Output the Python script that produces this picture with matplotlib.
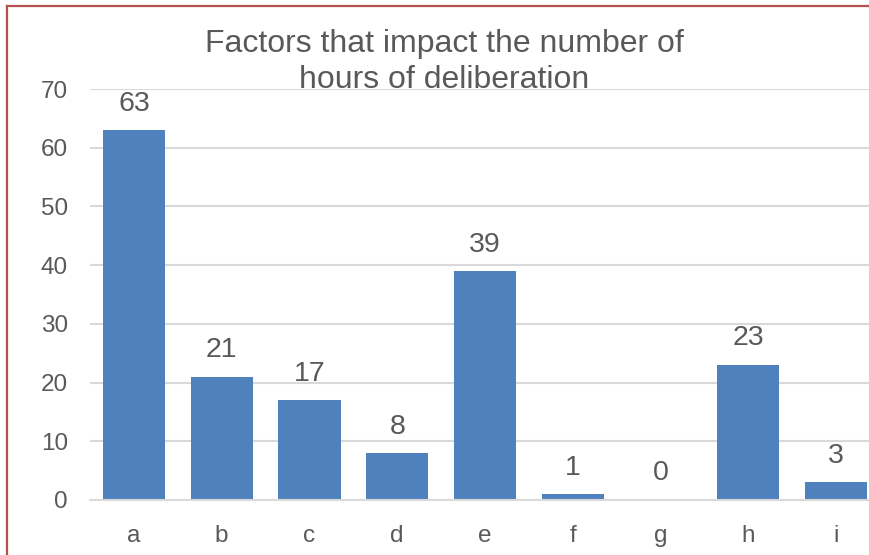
import matplotlib.pyplot as plt
from matplotlib.lines import Line2D

# data
categories = ['a', 'b', 'c', 'd', 'e', 'f', 'g', 'h', 'i']
counts = [63, 21, 17, 8, 39, 1, 0, 23, 3]
y_ticks = [0, 10, 20, 30, 40, 50, 60, 70]

bar_color = '#4F81BD'
text_color = '#595959'
grid_color = '#D9D9D9'

plt.rcParams['font.family'] = ['Liberation Sans', 'DejaVu Sans']

W, H = 870, 555
fig = plt.figure(figsize=(W / 100, H / 100), dpi=100)

# plot area runs past the right edge of the picture (cropped chart)
ax = fig.add_axes([90 / W, (H - 500) / H, 790 / W, 411 / H])

x = range(len(categories))
ax.bar(x, counts, width=0.71, color=bar_color, zorder=2)

for xi, v in zip(x, counts):
    ax.text(xi, v + 2.3, str(v), ha='center', va='bottom',
            fontsize=20.5, color=text_color)

ax.set_xlim(-0.5, len(categories) - 0.5)
ax.set_ylim(0, 70)
ax.set_yticks(y_ticks)
ax.set_xticks(list(x))
ax.set_xticklabels(categories)
ax.tick_params(axis='y', length=0, pad=16, labelsize=17.5, labelcolor=text_color)
ax.tick_params(axis='x', length=0, pad=18, labelsize=17.5, labelcolor=text_color)
ax.grid(axis='y', color=grid_color, linewidth=1.5, zorder=0)
for s in ['top', 'right', 'left']:
    ax.spines[s].set_visible(False)
ax.spines['bottom'].set_color(grid_color)
ax.spines['bottom'].set_linewidth(1.5)

fig.text(444 / W, 1 - 62 / H, 'Factors that impact the number of\nhours of deliberation',
         ha='center', va='center', fontsize=23, color=text_color,
         linespacing=1.29)

# red frame of the cropped chart box
border = '#B5514F'
fig.add_artist(Line2D([7.5 / W, 7.5 / W], [0, 1 - 5.5 / H], color=border, linewidth=1.6))
fig.add_artist(Line2D([7.5 / W, 1], [1 - 5.5 / H, 1 - 5.5 / H], color=border, linewidth=1.6))

fig.savefig('out.png', dpi=100)
